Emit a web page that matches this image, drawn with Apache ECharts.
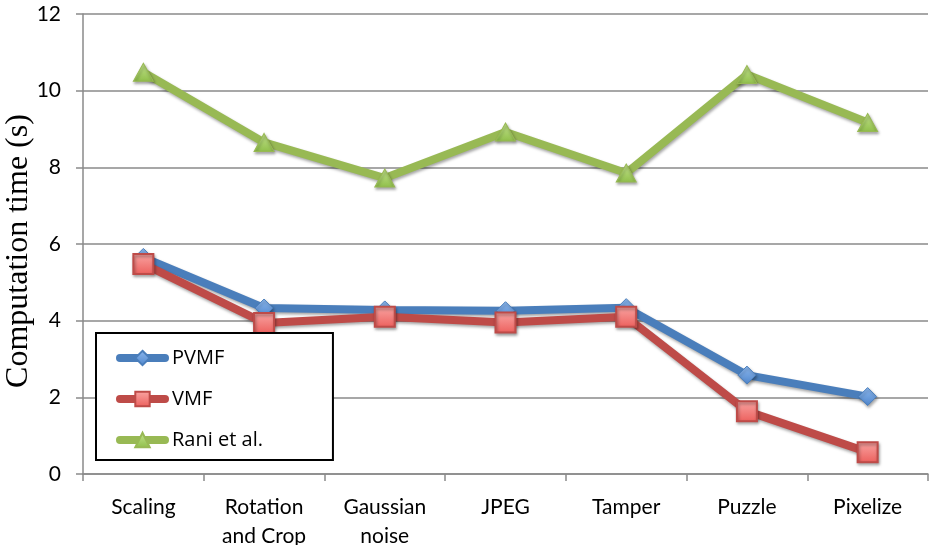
<!DOCTYPE html>
<html>
<head>
<meta charset="utf-8">
<script src="https://cdn.jsdelivr.net/npm/echarts@6/dist/echarts.min.js"></script>
<style>html,body{margin:0;padding:0;background:#fff}#c{width:929px;height:545px}</style>
</head>
<body>
<div id="c"></div>
<script>
const categories = ['Scaling', 'Rotation\nand Crop', 'Gaussian\nnoise', 'JPEG', 'Tamper', 'Puzzle', 'Pixelize'];
const pvmf = [5.65, 4.33, 4.28, 4.26, 4.34, 2.58, 2.02];
const vmf = [5.48, 3.94, 4.10, 3.95, 4.10, 1.64, 0.57];
const rani = [10.48, 8.65, 7.72, 8.92, 7.85, 10.42, 9.17];
const yTicks = { min: 0, max: 12, interval: 2 };

function grad(top, bottom) {
  return new echarts.graphic.LinearGradient(0, 0, 0, 1, [
    { offset: 0, color: top }, { offset: 1, color: bottom }
  ]);
}
const font = 'Lato, "Open Sans", sans-serif';
const chart = echarts.init(document.getElementById('c'), null, { renderer: 'canvas' });
const shadow = { shadowColor: 'rgba(0,0,0,0.35)', shadowBlur: 3, shadowOffsetX: 1, shadowOffsetY: 2 };
chart.setOption({
  animation: false,
  backgroundColor: '#fff',
  grid: { left: 83, right: 1, top: 14, bottom: 71, outerBoundsMode: 'none', containLabel: false },
  legend: {
    orient: 'vertical',
    left: 96, top: 333,
    padding: [15, 70, 10, 20],
    itemWidth: 45, itemHeight: 18, itemGap: 21,
    borderColor: '#000', borderWidth: 2, backgroundColor: '#fff',
    lineStyle: { width: 8, cap: 'round' },
    textStyle: { fontFamily: '"Open Sans", Lato, sans-serif', fontSize: 20, color: '#000', padding: [0, 0, 0, 2] },
    data: ['PVMF', 'VMF', 'Rani et al.']
  },
  xAxis: {
    type: 'category',
    data: categories,
    boundaryGap: true,
    axisLine: { lineStyle: { color: '#8a8a8a', width: 1.5 } },
    axisTick: { show: true, length: 7, lineStyle: { color: '#8a8a8a', width: 1.5 } },
    axisLabel: { fontFamily: font, fontSize: 21, color: '#000', margin: 19, lineHeight: 29, interval: 0 }
  },
  yAxis: {
    type: 'value',
    min: yTicks.min, max: yTicks.max, interval: yTicks.interval,
    name: 'Computation time (s)',
    nameLocation: 'middle',
    nameGap: 48,
    nameMoveOverlap: false,
    nameTextStyle: { fontFamily: '"Liberation Serif", serif', fontSize: 32, color: '#000', padding: [0, 14, 0, 0] },
    axisLine: { show: true, lineStyle: { color: '#8a8a8a', width: 1.5 } },
    axisTick: { show: true, length: 7, lineStyle: { color: '#8a8a8a', width: 1.5 } },
    axisLabel: { fontFamily: font, fontSize: 21, color: '#000', margin: 22 },
    splitLine: { lineStyle: { color: '#8a8a8a', width: 1.5 } }
  },
  series: [
    {
      name: 'PVMF', type: 'line', data: pvmf,
      symbol: 'diamond', symbolSize: 18,
      lineStyle: Object.assign({ color: '#4a7ebb', width: 8 }, shadow),
      itemStyle: Object.assign({ color: grad('#8db8ee', '#4f86cc'), borderColor: '#4a7ebb', borderWidth: 1 }, shadow)
    },
    {
      name: 'VMF', type: 'line', data: vmf,
      symbol: 'rect', symbolSize: 20,
      lineStyle: Object.assign({ color: '#be4b48', width: 8 }, shadow),
      itemStyle: Object.assign({ color: grad('#f9a6a4', '#ec5f5c'), borderColor: '#be4b48', borderWidth: 2 }, shadow)
    },
    {
      name: 'Rani et al.', type: 'line', data: rani,
      symbol: 'triangle', symbolSize: [20, 18],
      lineStyle: Object.assign({ color: '#98b954', width: 8 }, shadow),
      itemStyle: Object.assign({ color: grad('#c5e58e', '#8fbe4a'), borderColor: '#98b954', borderWidth: 1 }, shadow)
    }
  ]
});
</script>
</body>
</html>
